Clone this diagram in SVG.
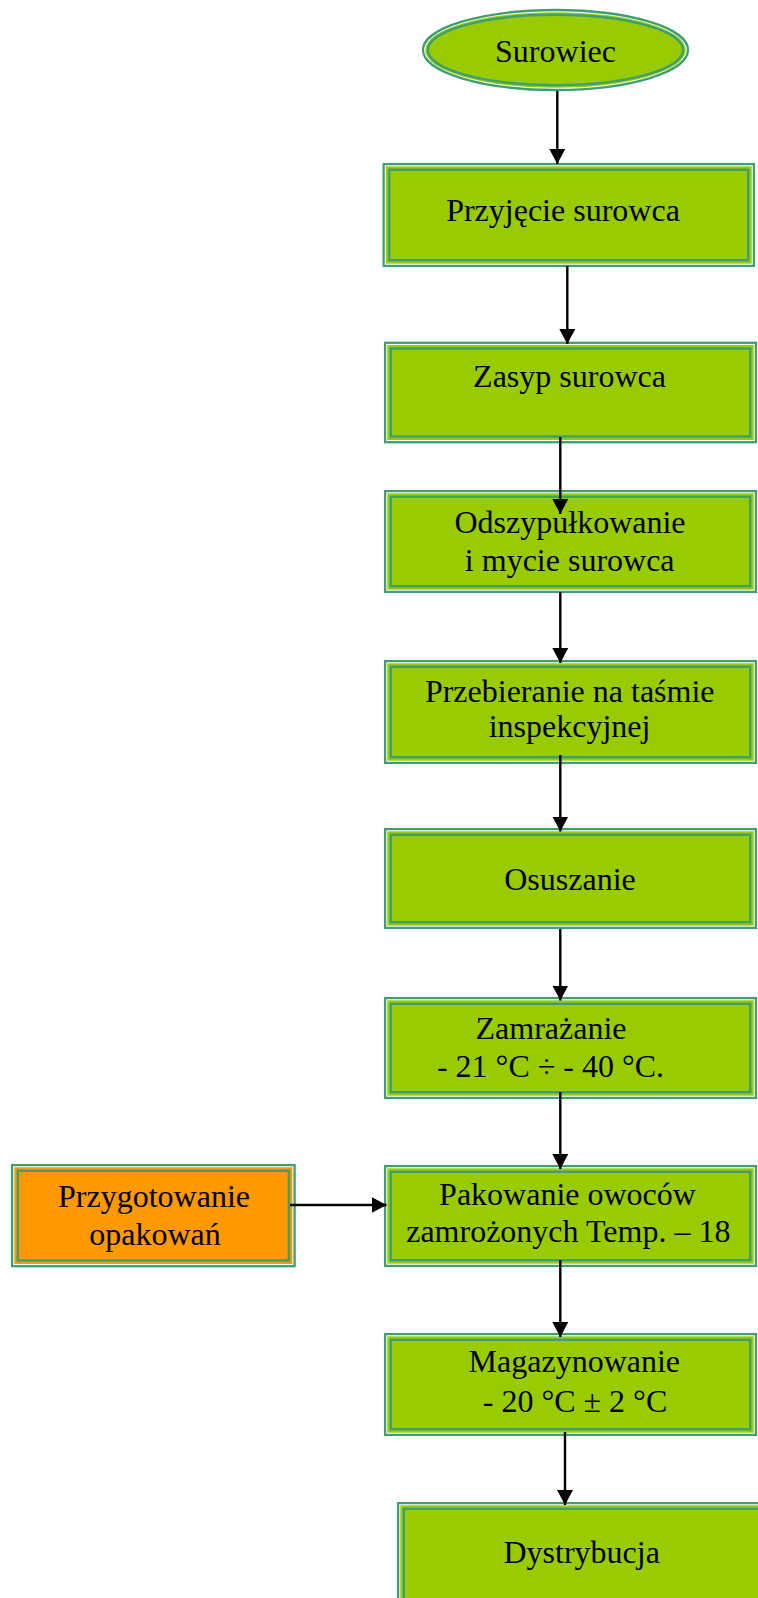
<svg xmlns="http://www.w3.org/2000/svg" width="758" height="1598" viewBox="0 0 758 1598">
<style>
.o{fill:#fff;stroke:#3f9f70;stroke-width:2.3}
.m{stroke:none}
.i{stroke:#3f9f70;stroke-width:2.4}
.g{fill:#99cc00}
.r{fill:#ff9900}
.t{font-family:"Liberation Serif","Times New Roman",serif;font-size:32px;fill:#000;text-anchor:middle}
.c{stroke:#000;stroke-width:2.4;fill:none;marker-end:url(#ah)}
</style>
<defs>
<marker id="ah" markerUnits="userSpaceOnUse" markerWidth="17" markerHeight="17" refX="15" refY="8" orient="auto">
<path d="M0,0 L15,8 L0,16 z" fill="#000"/>
</marker>
</defs>
<rect width="758" height="1598" fill="#fff"/>
<g id="n-surowiec">
<ellipse class="o" cx="555.5" cy="50" rx="132.5" ry="40"/>
<ellipse class="m g" cx="555.5" cy="50" rx="130.3" ry="37.8"/>
<ellipse class="i g" cx="555.5" cy="50" rx="127.6" ry="35.2"/>
<text class="t" x="555.5" y="61.7">Surowiec</text>
</g>
<g id="n-przyjecie">
<rect class="o" x="383.6" y="164.1" width="370.3" height="101.8"/>
<rect class="m g" x="385.8" y="166.3" width="365.9" height="97.4"/>
<rect class="i g" x="389.3" y="169.8" width="358.9" height="90.4"/>
<text class="t" x="563" y="220.5">Przyjęcie surowca</text>
</g>
<g id="n-zasyp">
<rect class="o" x="385.1" y="342.8" width="370.8" height="99.4"/>
<rect class="m g" x="387.3" y="345" width="366.4" height="95"/>
<rect class="i g" x="390.8" y="348.5" width="359.4" height="88"/>
<text class="t" x="569.5" y="387">Zasyp surowca</text>
</g>
<g id="n-odszyp">
<rect class="o" x="385.1" y="491.1" width="370.8" height="100.8"/>
<rect class="m g" x="387.3" y="493.3" width="366.4" height="96.4"/>
<rect class="i g" x="390.8" y="496.8" width="359.4" height="89.4"/>
<text class="t" x="570" y="533.3">Odszypułkowanie</text>
<text class="t" x="569.7" y="570.7">i mycie surowca</text>
</g>
<g id="n-przebieranie">
<rect class="o" x="385.1" y="661.1" width="370.8" height="101.8"/>
<rect class="m g" x="387.3" y="663.3" width="366.4" height="97.4"/>
<rect class="i g" x="390.8" y="666.8" width="359.4" height="90.4"/>
<text class="t" x="569.7" y="701.7">Przebieranie na taśmie</text>
<text class="t" x="569.5" y="736.7">inspekcyjnej</text>
</g>
<g id="n-osuszanie">
<rect class="o" x="385.1" y="829.1" width="370.8" height="98.8"/>
<rect class="m g" x="387.3" y="831.3" width="366.4" height="94.4"/>
<rect class="i g" x="390.8" y="834.8" width="359.4" height="87.4"/>
<text class="t" x="570" y="890">Osuszanie</text>
</g>
<g id="n-zamrazanie">
<rect class="o" x="385.1" y="998.1" width="370.8" height="99.8"/>
<rect class="m g" x="387.3" y="1000.3" width="366.4" height="95.4"/>
<rect class="i g" x="390.8" y="1003.8" width="359.4" height="88.4"/>
<text class="t" x="551" y="1039">Zamrażanie</text>
<text class="t" x="550.5" y="1077.3">- 21 °C ÷ - 40 °C.</text>
</g>
<g id="n-pakowanie">
<rect class="o" x="385.1" y="1166.1" width="370.8" height="99.8"/>
<rect class="m g" x="387.3" y="1168.3" width="366.4" height="95.4"/>
<rect class="i g" x="390.8" y="1171.8" width="359.4" height="88.4"/>
<text class="t" x="567.5" y="1205">Pakowanie owoców</text>
<text class="t" x="568.3" y="1241.7">zamrożonych Temp. – 18</text>
</g>
<g id="n-przygotowanie">
<rect class="o" x="12.1" y="1165.1" width="282.5" height="101.1"/>
<rect class="m r" x="14.3" y="1167.3" width="278.1" height="96.7"/>
<rect class="i r" x="17.8" y="1170.8" width="271.1" height="89.7"/>
<text class="t" x="154" y="1206.7">Przygotowanie</text>
<text class="t" x="155" y="1245">opakowań</text>
</g>
<g id="n-magazynowanie">
<rect class="o" x="385.1" y="1334.1" width="370.8" height="100.8"/>
<rect class="m g" x="387.3" y="1336.3" width="366.4" height="96.4"/>
<rect class="i g" x="390.8" y="1339.8" width="359.4" height="89.4"/>
<text class="t" x="574.3" y="1371.7">Magazynowanie</text>
<text class="t" x="575" y="1411.7">- 20 °C ± 2 °C</text>
</g>
<g id="n-dystrybucja">
<rect class="o" x="398.1" y="1503.1" width="370.8" height="110"/>
<rect class="m g" x="400.3" y="1505.3" width="366.4" height="105"/>
<rect class="i g" x="403.8" y="1508.8" width="359.4" height="100"/>
<text class="t" x="581.7" y="1563.3">Dystrybucja</text>
</g>
<g id="connectors">
<line class="c" x1="557.3" y1="91" x2="557.3" y2="164"/>
<line class="c" x1="567.3" y1="266" x2="567.3" y2="344"/>
<line class="c" x1="560.3" y1="437" x2="560.3" y2="514"/>
<line class="c" x1="560.3" y1="592" x2="560.3" y2="663"/>
<line class="c" x1="560.3" y1="755" x2="560.3" y2="831.5"/>
<line class="c" x1="560.3" y1="929" x2="560.3" y2="1000.5"/>
<line class="c" x1="560.3" y1="1092" x2="560.3" y2="1169"/>
<line class="c" x1="560.3" y1="1260" x2="560.3" y2="1337"/>
<line class="c" x1="565" y1="1432" x2="565" y2="1505"/>
<line class="c" x1="290" y1="1205" x2="386.5" y2="1205"/>
</g>
</svg>
